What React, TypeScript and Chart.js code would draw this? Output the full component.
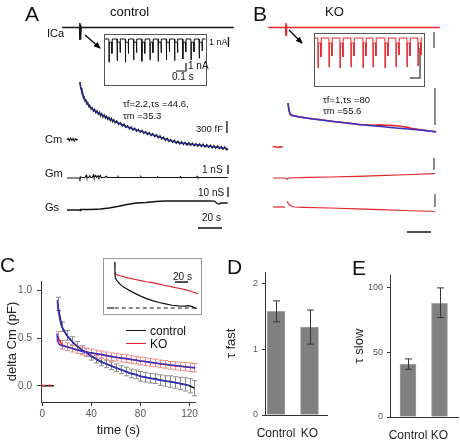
import React, { useEffect, useRef } from "react";
import { Chart, registerables } from "chart.js";

Chart.register(...registerables);
const FONT = '"Liberation Sans", Arial, Helvetica, sans-serif';
Chart.defaults.font.family = FONT;

type P = [number, number];

// ---------------- Panel A / B traces (time in s) ----------------
const icaCtrl: P[] = [[-4, 0], [10.5, 0], [10.6, 0.45], [10.8, -1.25], [11.0, 0.3], [11.2, -1.2], [11.4, 0.2], [11.6, -0.9], [11.8, 0], [139, 0]];
const icaKO: P[] = [[-4, 0], [10.5, 0], [10.6, 0.45], [10.8, -0.85], [11.0, 0.3], [11.2, -0.8], [11.4, 0], [139, 0]];

// inset pulse trains (ms, nA)
const ctrlPulseOnsets = [20, 102, 184, 266, 348, 430, 512, 594, 676, 758, 840, 922];
const ctrlPulsePeaks = [-2.9, -2.7, -2.9, -2.6, -2.8, -2.6, -2.8, -2.6, -2.7, -2.5, -2.6, -2.4];
const ctrlPulseTails = [-1.8, -1.7, -1.8, -1.7, -1.8, -1.7, -1.7, -1.6, -1.7, -1.6, -1.6, -1.5];
const koPulseOnsets = [20, 130, 240, 350, 470, 570, 690, 800, 910, 1020];
const koPulsePeaks = [-3.0, -2.9, -3.0, -2.9, -3.0, -2.9, -3.0, -2.9, -2.9, -2.8];
const koPulseTails = [-1.9, -1.8, -1.9, -1.8, -1.8, -1.8, -1.8, -1.7, -1.8, -1.7];

// Cm (fF)
const cmCtrlPre: P[] = [[0, 0], [1, 40], [2, -20], [3, 50], [4, -10], [5, 40], [6, -30], [7, 30], [8, 0], [9, 20]];
const cmCtrlRaw: P[] = [[10.8, 1450], [11.3, 1300], [11.8, 1300], [12.4, 1170], [13, 1190], [13.7, 1040], [14.4, 1075], [15.1, 955], [15.8, 1010], [16.6, 890], [17.4, 935], [18.2, 830], [19, 870], [20, 770], [21, 815], [22, 720], [23, 770], [24, 680], [25, 735], [26, 640], [27, 700], [28, 600], [29, 665], [30, 570], [31, 630], [32, 540], [33, 600], [34, 510], [35, 570], [36, 480], [37, 545], [38, 455], [39, 510], [40, 425], [41.5, 480], [43, 385], [44.5, 440], [46, 345], [47.5, 400], [49, 310], [50.5, 360], [52, 275], [53.5, 330], [55, 245], [56.5, 300], [58, 215], [59.5, 270], [61, 190], [62.5, 245], [64, 160], [65.5, 215], [67, 130], [68.5, 190], [70, 105], [71.5, 165], [73, 80], [74.5, 135], [76, 50], [77.5, 110], [79, 20], [80.5, 75], [82, -10], [83.5, 45], [85, -40], [86.5, 15], [88, -65], [89.5, -5], [91, -85], [92.5, -25], [94, -105], [95.5, -40], [97, -120], [98.5, -55], [100, -130], [101.5, -65], [103, -140], [104.5, -75], [106, -150], [107.5, -85], [109, -160], [110.5, -95], [112, -170], [113.5, -100], [115, -180], [116.5, -115], [118, -190], [119.5, -125], [121, -200], [122.5, -135], [124, -210], [125.5, -145], [127, -220], [128.5, -160], [130, -235], [131.5, -170], [133, -250], [134.2, -225]];
const cmCtrlFit: P[] = [[10.8, 1450], [11.3, 1340], [11.8, 1270], [12.4, 1210], [13, 1150], [14.4, 1040], [15.8, 975], [17.4, 900], [19, 830], [21, 780], [23, 730], [25, 700], [27, 660], [30, 610], [33, 565], [36, 520], [40, 460], [44.5, 400], [49, 345], [53.5, 295], [58, 250], [62.5, 210], [67, 168], [71.5, 128], [76, 88], [80.5, 40], [85, -5], [89.5, -42], [94, -70], [98.5, -90], [103, -106], [107.5, -120], [112, -133], [116.5, -150], [121, -166], [125.5, -180], [130, -200], [134.2, -222]];
const cmKOPre: P[] = [[0, 0], [2, 10], [4, -10], [6, 5], [8, 0]];
const cmKORaw: P[] = [[12.5, 1100], [13, 980], [13.6, 880], [14.3, 820], [15, 800], [16, 790], [18, 775], [20, 765], [22, 750], [25, 740], [28, 725], [31, 715], [34, 700], [37, 690], [40, 680], [43, 668], [46, 655], [49, 645], [52, 632], [55, 622], [58, 612], [61, 600], [64, 590], [67, 580], [70, 568], [73, 560], [76, 555], [79, 550], [82, 548], [85, 545], [88, 552], [91, 548], [94, 545], [97, 540], [100, 535], [103, 530], [106, 520], [109, 505], [112, 490], [115, 470], [118, 455], [121, 440], [124, 430], [127, 415], [130, 400], [133, 390], [136, 375]];
const cmKOFit: P[] = [[12.5, 1100], [13.2, 950], [14, 850], [15, 805], [17, 780], [20, 762], [25, 738], [30, 715], [40, 677], [50, 640], [60, 605], [70, 570], [80, 540], [90, 510], [100, 482], [110, 455], [120, 430], [130, 402], [136, 382]];

// Gm (nS)
const gmCtrl: P[] = [[0, 0], [10.6, 0], [10.8, -0.35], [11.1, 0.12], [13, 0.05], [15, 0.06], [16, 0.3], [16.5, 0.05], [18, 0.06], [19, 0.25], [19.5, 0.06], [21, 0.07], [22, 0.35], [22.5, 0.06], [24, 0.3], [24.5, 0.07], [26, 0.25], [26.5, 0.06], [28, 0.28], [28.5, 0.05], [31, 0.06], [33, 0.2], [33.5, 0.05], [42, 0.06], [42.5, 0.15], [43, 0.05], [61, 0.06], [61.5, 0.15], [62, 0.05], [75, 0.06], [75.5, 0.15], [76, 0.05], [94, 0.06], [94.5, 0.15], [95, 0.05], [108, 0.05], [108.5, 0.18], [109, 0.05], [134, 0.05]];
const gmKO: P[] = [[0, 0], [10, 0], [11.7, -0.15], [13, 0], [30, 0.06], [47.5, 0.11], [70, 0.18], [89, 0.26], [110, 0.36], [135, 0.48]];

// Gs (nS)
const gsCtrl: P[] = [[0, 0], [10, 0], [10.8, 0.3], [11, -0.5], [11.5, 0.5], [20, 0.5], [28, 1], [35, 2], [42, 3.5], [50, 5.5], [58, 7], [66, 7.5], [74, 8.5], [82, 9], [90, 9.2], [100, 9], [110, 9.2], [118, 9], [123, 8.8], [125.5, 6.3], [127, 6], [128, 7], [134, 7]];
const gsKOPre: P[] = [[0, 0], [10, 0]];
const gsKO: P[] = [[11.7, 5.5], [12.3, 4.5], [13, 3], [14, 1.8], [15.8, 0.5], [18, 0], [25, -0.3], [47.5, -1], [70, -1.8], [89, -2.7], [110, -3.5], [135, -4.5]];

// scale bars (data units)
const barICaCtrl: P[] = [[134.6, -0.95], [134.6, -1.95]];
const barICaKO: P[] = [[134.2, -0.45], [134.2, -2.05]];
const barInsetCtrl: P[] = [[690, -4.0], [790, -4.0], [790, -3.0]];
const barInsetKO: P[] = [[940, -4.0], [1040, -4.0], [1040, -1.0]];
const barCmCtrl: P[] = [[133.3, 475], [133.3, 175]];
const barCmKO: P[] = [[135, 1475], [135, 550]];
const barGmCtrl: P[] = [[134.2, 1.44], [134.2, 0.44]];
const barGmKO: P[] = [[134.2, 2.22], [134.2, 0.89]];
const barGsCtrl: P[] = [[134.2, 23], [134.2, 13]];
const barGsKO: P[] = [[135, 13], [135, 0]];
const barTimeCtrl: P[] = [[109.2, -18], [129.2, -18]];
const barTimeKO: P[] = [[111.7, -25], [131.7, -25]];

// ---------------- Panel C ----------------
const cTimes = [12.5, 16, 20, 24, 28, 32, 36, 40, 44, 48, 52, 56, 60, 64, 68, 72, 76, 80, 84, 88, 92, 96, 100, 104, 108, 112, 116, 120, 124];
const ctrlMean = [0.86, 0.62, 0.53, 0.47, 0.42, 0.38, 0.35, 0.31, 0.28, 0.25, 0.23, 0.21, 0.19, 0.17, 0.15, 0.13, 0.12, 0.10, 0.09, 0.08, 0.075, 0.06, 0.05, 0.045, 0.035, 0.025, 0.015, 0.0, -0.025];
const ctrlSem = [0.07, 0.05, 0.05, 0.045, 0.045, 0.04, 0.04, 0.04, 0.04, 0.04, 0.04, 0.04, 0.04, 0.04, 0.045, 0.045, 0.045, 0.05, 0.05, 0.05, 0.05, 0.055, 0.055, 0.06, 0.06, 0.065, 0.07, 0.075, 0.08];
const koMean = [0.52, 0.43, 0.41, 0.395, 0.38, 0.365, 0.355, 0.345, 0.335, 0.325, 0.315, 0.305, 0.30, 0.29, 0.285, 0.275, 0.27, 0.26, 0.255, 0.245, 0.24, 0.23, 0.225, 0.215, 0.21, 0.205, 0.20, 0.195, 0.19];
const koSem = [0.05, 0.045, 0.04, 0.04, 0.04, 0.04, 0.04, 0.04, 0.04, 0.04, 0.04, 0.04, 0.04, 0.04, 0.04, 0.04, 0.04, 0.04, 0.04, 0.04, 0.04, 0.04, 0.04, 0.04, 0.042, 0.042, 0.044, 0.045, 0.045];
const cPreTimes = [0, 3, 6, 9.5];
const cPreCtrl = [0, 0, 0, 0];
const cPreKO = [0.005, 0, 0.005, 0];
const ctrlFitC: P[] = [[12.3, 0.9], [13, 0.8], [14, 0.72], [15, 0.66], [16, 0.62], [18, 0.57], [20, 0.53], [24, 0.47], [28, 0.42], [32, 0.38], [36, 0.35], [40, 0.31], [50, 0.24], [60, 0.19], [70, 0.14], [80, 0.10], [90, 0.075], [100, 0.05], [110, 0.03], [120, 0.0]];
const koFitC: P[] = [[12, 0.55], [12.5, 0.48], [13.5, 0.44], [15, 0.425], [20, 0.41], [25, 0.39], [30, 0.37], [35, 0.355], [40, 0.345], [50, 0.325], [60, 0.30], [70, 0.285], [80, 0.26], [90, 0.245], [100, 0.225], [110, 0.21], [120, 0.195], [125, 0.19]];
// inset (normalised)
const insetCtrl: P[] = [[12, 1.0], [12.3, 0.8], [12.6, 0.66], [15, 0.6], [20, 0.52], [25, 0.46], [30, 0.42], [40, 0.34], [50, 0.27], [60, 0.21], [70, 0.16], [80, 0.12], [90, 0.09], [100, 0.06], [110, 0.045], [120, 0.04], [125, 0.05], [130, 0.035], [138, -0.01]];
const insetKO: P[] = [[12.6, 0.78], [14, 0.73], [20, 0.7], [30, 0.66], [40, 0.63], [50, 0.6], [60, 0.57], [70, 0.55], [80, 0.52], [90, 0.49], [100, 0.46], [110, 0.43], [120, 0.4], [130, 0.36], [140, 0.31]];
const insetPre: P[] = [[0, 0], [11, 0]];
const insetZero: P[] = [[12, 0], [140, 0]];
const insetBar: P[] = [[104.6, 0.565], [124.6, 0.565]];

// ---------------- Panels D / E ----------------
const groups = ["Control", "KO"];
const tauFast = [1.58, 1.34];
const tauFastLo = [1.42, 1.08];
const tauFastHi = [1.74, 1.6];
const tauSlow = [41, 88];
const tauSlowLo = [37, 77];
const tauSlowHi = [45, 100];

// ---------------- helpers ----------------
const BLACK = "#111";
const RED = "#e3242b";
const BLUE_A = "#24248f";
const BLUE = "#3434c8";
const GRAY = "#666";

const pts = (a: P[]) => a.map(([x, y]) => ({ x, y }));
const zip = (xs: number[], ys: number[]) => xs.map((x, i) => ({ x, y: ys[i] }));

function ds(data: any[], color: string, width = 1.2, extra: any = {}) {
  return { data, borderColor: color, borderWidth: width, pointRadius: 0, fill: false, tension: 0, ...extra };
}

function pulseTrace(onsets: number[], peaks: number[], tails: number[], plateau: number, start: number, end: number, width: number): P[] {
  const out: P[] = [[start, 0]];
  onsets.forEach((t, i) => {
    out.push([t - 1, 0], [t, peaks[i]], [t + 3, plateau], [t + width, plateau], [t + width + 1, tails[i]], [t + width + 5, 0]);
  });
  out.push([end, 0]);
  return out;
}

function traceConfig(xr: [number, number], yr: [number, number], datasets: any[]) {
  return {
    type: "line",
    data: { datasets },
    options: {
      animation: false,
      responsive: false,
      events: [],
      layout: { padding: 0 },
      plugins: { legend: { display: false }, tooltip: { enabled: false } },
      scales: {
        x: { type: "linear", display: false, min: xr[0], max: xr[1] },
        y: { type: "linear", display: false, min: yr[0], max: yr[1] },
      },
    },
  };
}

function errorBars(id: string, xs: number[], lo: number[], hi: number[], color: string, cap: number, after: boolean) {
  const draw = (chart: any) => {
    const { ctx, scales } = chart;
    ctx.save();
    ctx.strokeStyle = color;
    ctx.lineWidth = 1;
    xs.forEach((v, i) => {
      const px = Math.round(scales.x.getPixelForValue(v)) + 0.5;
      const p1 = scales.y.getPixelForValue(lo[i]);
      const p2 = scales.y.getPixelForValue(hi[i]);
      ctx.beginPath();
      ctx.moveTo(px, p1);
      ctx.lineTo(px, p2);
      ctx.moveTo(px - cap / 2, p1);
      ctx.lineTo(px + cap / 2, p1);
      ctx.moveTo(px - cap / 2, p2);
      ctx.lineTo(px + cap / 2, p2);
      ctx.stroke();
    });
    ctx.restore();
  };
  return after ? { id, afterDatasetsDraw: draw } : { id, beforeDatasetsDraw: draw };
}

const tXA: [number, number] = [-4.17, 139.2];

function cConfig() {
  return {
    type: "line",
    data: {
      datasets: [
        ds(pts(ctrlFitC), BLUE, 1.5),
        ds(pts(koFitC), BLUE, 1.5),
        ds(zip(cTimes, ctrlMean), BLACK, 1.5),
        ds(zip(cTimes, koMean), RED, 1.5),
        ds(zip(cPreTimes, cPreKO), RED, 1.5, { borderDash: [3, 3] }),
        ds(zip(cPreTimes, cPreCtrl), BLACK, 1.5),
      ],
    },
    options: {
      animation: false,
      responsive: false,
      events: [],
      layout: { padding: { top: 5, right: 3, left: 0, bottom: 0 } },
      plugins: { legend: { display: false }, tooltip: { enabled: false } },
      scales: {
        x: {
          type: "linear", min: -1, max: 125,
          afterFit: (s: any) => { s.height = 38; },
          grid: { display: true, drawOnChartArea: false, drawTicks: true, tickLength: 4, color: "#333" },
          border: { display: true, color: "#333", width: 1 },
          ticks: { stepSize: 40, includeBounds: false, color: "#555", font: { size: 10 }, padding: 2, maxRotation: 0 },
          title: { display: true, text: "time (s)", color: "#222", font: { size: 13 }, padding: { top: 0, bottom: 2 } },
        },
        y: {
          type: "linear", min: -0.17, max: 1.1,
          afterFit: (s: any) => { s.width = 41; },
          grid: { display: true, drawOnChartArea: false, drawTicks: true, tickLength: 4, color: "#333" },
          border: { display: true, color: "#333", width: 1 },
          ticks: { stepSize: 0.5, includeBounds: false, color: "#555", font: { size: 10 }, padding: 5, callback: (v: any) => Number(v).toFixed(1) },
          title: { display: true, text: "delta Cm (pF)", color: "#222", font: { size: 13 }, padding: { top: 5, bottom: 0 } },
        },
      },
    },
    plugins: [
      errorBars("ebc", cTimes, ctrlMean.map((m, i) => m - ctrlSem[i]), ctrlMean.map((m, i) => m + ctrlSem[i]), "#8a8a8a", 5, false),
      errorBars("ebk", cTimes, koMean.map((m, i) => m - koSem[i]), koMean.map((m, i) => m + koSem[i]), "#ef8a8a", 5, false),
    ],
  };
}

function barConfig(values: number[], lo: number[], hi: number[], xr: [number, number], ymax: number, step: number, title: string, pad: any, yw: number, xh: number, thick: number) {
  return {
    type: "bar",
    data: {
      datasets: [{
        data: values.map((v, i) => ({ x: i, y: v })),
        backgroundColor: "#808080", borderColor: "#a3a3a3", borderWidth: 1, barThickness: thick,
      }],
    },
    options: {
      animation: false,
      responsive: false,
      events: [],
      layout: { padding: pad },
      plugins: { legend: { display: false }, tooltip: { enabled: false } },
      scales: {
        x: {
          type: "linear", min: xr[0], max: xr[1], offset: false,
          afterFit: (s: any) => { s.height = xh; },
          grid: { display: false, drawTicks: false, offset: false },
          border: { display: true, color: "#333", width: 1 },
          ticks: { stepSize: 1, includeBounds: false, autoSkip: false, color: "#222", font: { size: 12 }, padding: 11, maxRotation: 0, callback: (v: any) => groups[Math.round(Number(v))] ?? "" },
        },
        y: {
          type: "linear", min: 0, max: ymax,
          afterFit: (s: any) => { s.width = yw; },
          grid: { display: true, drawOnChartArea: false, drawTicks: true, tickLength: 3, color: "#333" },
          border: { display: true, color: "#333", width: 1 },
          ticks: { stepSize: step, includeBounds: false, color: "#555", font: { size: 9 }, padding: 4 },
          title: { display: true, text: title, color: "#222", font: { size: 13 }, padding: { top: 0, bottom: 0 } },
        },
      },
    },
    plugins: [errorBars("eb", [0, 1], lo, hi, "#333", 7, true)],
  };
}

function ChartBox({ x, y, w, h, config }: { x: number; y: number; w: number; h: number; config: () => any }) {
  const ref = useRef<HTMLCanvasElement | null>(null);
  useEffect(() => {
    if (!ref.current) return;
    const c = new Chart(ref.current, config());
    return () => c.destroy();
  }, []);
  return <canvas ref={ref} width={w} height={h} style={{ position: "absolute", left: x, top: y, width: w, height: h }} />;
}

function T({ x, cy, s, children, c = "#111" }: { x: number; cy: number; s: number; children: any; c?: string }) {
  return (
    <div style={{ position: "absolute", left: x, top: cy, transform: "translateY(-50%)", fontSize: s, lineHeight: 1, color: c, whiteSpace: "nowrap" }}>
      {children}
    </div>
  );
}

export default function App() {
  return (
    <div style={{ position: "absolute", left: 0, top: 0, width: 460, height: 440, background: "#fff", overflow: "hidden", fontFamily: FONT }}>
      {/* Panel A */}
      <ChartBox x={62} y={15} w={172} h={35} config={() => traceConfig(tXA, [-2.25, 1.25], [ds(pts(icaCtrl), BLACK, 1.4), ds(pts(barICaCtrl), BLACK, 1.3)])} />
      <ChartBox x={105} y={35} w={102} h={49} config={() => traceConfig([-20, 1000], [-5.625, 0.5], [
        ds(pts(pulseTrace(ctrlPulseOnsets, ctrlPulsePeaks, ctrlPulseTails, -0.4, -20, 985, 28)), BLACK, 1),
        ds(pts(barInsetCtrl), BLACK, 1.2),
      ])} />
      <ChartBox x={62} y={75} w={172} h={80} config={() => traceConfig(tXA, [-375, 1625], [
        ds(pts(cmCtrlFit), BLUE_A, 1.5),
        ds(pts(cmCtrlRaw), BLACK, 1.1),
        ds(pts(cmCtrlPre), BLACK, 1.1),
        ds(pts(barCmCtrl), BLACK, 1.3),
      ])} />
      <ChartBox x={62} y={155} w={172} h={30} config={() => traceConfig(tXA, [-0.78, 2.56], [ds(pts(gmCtrl), BLACK, 1.1), ds(pts(barGmCtrl), BLACK, 1.3)])} />
      <ChartBox x={62} y={183} w={172} h={50} config={() => traceConfig(tXA, [-23, 27], [ds(pts(gsCtrl), BLACK, 1.3), ds(pts(barGsCtrl), BLACK, 1.3), ds(pts(barTimeCtrl), BLACK, 1.5)])} />

      {/* Panel B */}
      <ChartBox x={268} y={15} w={172} h={35} config={() => traceConfig(tXA, [-2.25, 1.25], [ds(pts(icaKO), RED, 1.4), ds(pts(barICaKO), GRAY, 1.5)])} />
      <ChartBox x={315} y={34} w={108} h={51} config={() => traceConfig([-10, 1070], [-4.7, 0.4], [
        ds(pts(pulseTrace(koPulseOnsets, koPulsePeaks, koPulseTails, -0.5, -10, 1065, 28)), RED, 1),
        ds(pts(barInsetKO), "#555", 1.5),
      ])} />
      <ChartBox x={268} y={85} w={172} h={70} config={() => traceConfig(tXA, [-200, 1550], [
        ds(pts(cmKOFit), BLUE, 1.5),
        ds(pts(cmKORaw), RED, 1.6),
        ds(pts(cmKOPre), RED, 1.4),
        ds(pts(barCmKO), GRAY, 1.5),
      ])} />
      <ChartBox x={268} y={155} w={172} h={30} config={() => traceConfig(tXA, [-0.78, 2.56], [ds(pts(gmKO), RED, 1.2), ds(pts(barGmKO), GRAY, 1.5)])} />
      <ChartBox x={268} y={188} w={172} h={48} config={() => traceConfig(tXA, [-29, 19], [
        ds(pts(gsKOPre), RED, 1.2), ds(pts(gsKO), RED, 1.2), ds(pts(barGsKO), GRAY, 1.5), ds(pts(barTimeKO), BLACK, 1.5),
      ])} />

      {/* Panel C */}
      <ChartBox x={0} y={270} w={200} h={170} config={cConfig} />
      <div style={{ position: "absolute", left: 103, top: 258, width: 97, height: 55, border: "1px solid #999" }} />
      <ChartBox x={104} y={259} w={97} h={55} config={() => traceConfig([-4.6, 144.6], [-0.13, 1.065], [
        ds(pts(insetCtrl), BLACK, 1.2),
        ds(pts(insetKO), RED, 1.2),
        ds(pts(insetPre), BLACK, 1.2),
        ds(pts(insetZero), BLACK, 1, { borderDash: [4, 3] }),
        ds(pts(insetBar), BLACK, 1.5),
      ])} />

      {/* Panels D, E */}
      <ChartBox x={224} y={262} w={108} h={178} config={() => barConfig(tauFast, tauFastLo, tauFastHi, [-0.328, 1.522], 2.18, 1, "τ fast", { top: 10, right: 5, left: 0, bottom: 0 }, 41, 25, 18)} />
      <ChartBox x={352} y={262} w={108} h={178} config={() => barConfig(tauSlow, tauSlowLo, tauSlowHi, [-0.571, 1.587], 110, 50, "τ slow", { top: 13, right: 2, left: 0, bottom: 0 }, 38, 23, 16)} />

      {/* inset boxes */}
      <div style={{ position: "absolute", left: 104, top: 34, width: 101, height: 50, border: "1.5px solid #555" }} />
      <div style={{ position: "absolute", left: 314, top: 33, width: 109, height: 52, border: "1.5px solid #555" }} />

      {/* arrows */}
      <svg width={460} height={440} style={{ position: "absolute", left: 0, top: 0, pointerEvents: "none" }}>
        <defs>
          <marker id="ah" markerWidth="7" markerHeight="6" refX="6" refY="3" orient="auto" markerUnits="userSpaceOnUse">
            <path d="M0,0 L7,3 L0,6 z" fill="#000" />
          </marker>
        </defs>
        <line x1={85} y1={35} x2={100} y2={48} stroke="#000" strokeWidth={1.3} markerEnd="url(#ah)" />
        <line x1={289} y1={30} x2={302} y2={43} stroke="#000" strokeWidth={1.3} markerEnd="url(#ah)" />
      </svg>

      {/* legend C */}
      <div style={{ position: "absolute", left: 126, top: 330, width: 20, borderTop: "1.5px solid #111" }} />
      <div style={{ position: "absolute", left: 126, top: 343, width: 20, borderTop: "1.5px solid " + RED }} />
      <T x={150} cy={331} s={12}>control</T>
      <T x={150} cy={344} s={12}>KO</T>
      <T x={173} cy={277} s={10}>20 s</T>

      {/* texts A */}
      <T x={25} cy={13} s={21}>A</T>
      <T x={110} cy={11} s={13}>control</T>
      <T x={47} cy={33} s={11}>ICa</T>
      <T x={209} cy={42} s={9}>1 nA</T>
      <T x={188} cy={66} s={10}>1 nA</T>
      <T x={172} cy={77} s={10}>0.1 s</T>
      <T x={123} cy={104} s={9.5}>τf=2.2,τs =44.6,</T>
      <T x={123} cy={116} s={9.5}>τm =35.3</T>
      <T x={196} cy={129} s={9.5}>300 fF</T>
      <T x={45} cy={139} s={11}>Cm</T>
      <T x={45} cy={173} s={11}>Gm</T>
      <T x={45} cy={207} s={11}>Gs</T>
      <T x={202} cy={170} s={10}>1 nS</T>
      <T x={198} cy={193} s={10}>10 nS</T>
      <T x={202} cy={218} s={10}>20 s</T>

      {/* texts B */}
      <T x={253} cy={13} s={21}>B</T>
      <T x={325} cy={11} s={13}>KO</T>
      <T x={323} cy={100} s={9.5}>τf=1,τs =80</T>
      <T x={323} cy={111} s={9.5}>τm =55.6</T>

      {/* panel letters C D E */}
      <T x={0} cy={264} s={21}>C</T>
      <T x={227} cy={266} s={21}>D</T>
      <T x={352} cy={267} s={21}>E</T>
    </div>
  );
}
